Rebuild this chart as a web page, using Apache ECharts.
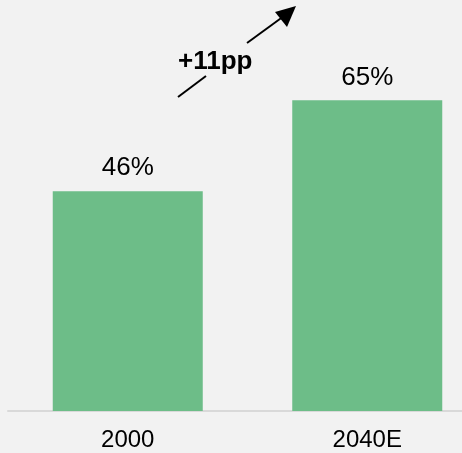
<!DOCTYPE html>
<html>
<head>
<meta charset="utf-8">
<style>
html,body{margin:0;padding:0;background:#f2f2f2;}
#chart{width:462px;height:453px;}
</style>
<script src="https://cdn.jsdelivr.net/npm/echarts@6/dist/echarts.min.js"></script>
</head>
<body>
<div id="chart"></div>
<script>
const categories = ['2000', '2040E'];
const values = [46, 65];
const annotationText = '+11pp';

const chart = echarts.init(document.getElementById('chart'));
chart.setOption({
  backgroundColor: '#f2f2f2',
  animation: false,
  grid: { left: 8, top: 0, width: 479, height: 411, outerBoundsMode: 'none', containLabel: false },
  xAxis: {
    type: 'category',
    data: categories,
    axisLine: { lineStyle: { color: '#d9d9d9', width: 2 } },
    axisTick: { show: false },
    axisLabel: { color: '#000', fontSize: 24, fontFamily: 'Liberation Sans, Arial', margin: 17 }
  },
  yAxis: {
    type: 'value', min: 0, max: 86, show: false, splitLine: { show: false }
  },
  series: [{
    type: 'bar',
    data: values,
    barWidth: 150,
    itemStyle: { color: '#6dbd88' },
    label: {
      show: true, position: 'top', distance: 10,
      formatter: p => p.value + '%',
      color: '#000', fontSize: 26, fontFamily: 'Liberation Sans, Arial'
    }
  }],
  graphic: [
    { type: 'line', shape: { x1: 178, y1: 97, x2: 206, y2: 76 }, style: { stroke: '#000', lineWidth: 2 } },
    { type: 'line', shape: { x1: 247, y1: 43, x2: 284, y2: 16 }, style: { stroke: '#000', lineWidth: 2 } },
    { type: 'polygon', shape: { points: [[296, 6], [275, 12], [287, 27]] }, style: { fill: '#000' } },
    { type: 'text', left: 178, top: 49, style: { text: annotationText, fontSize: 26, fontWeight: 'bold', fontFamily: 'Liberation Sans, Arial', fill: '#000' } }
  ]
});
</script>
</body>
</html>
